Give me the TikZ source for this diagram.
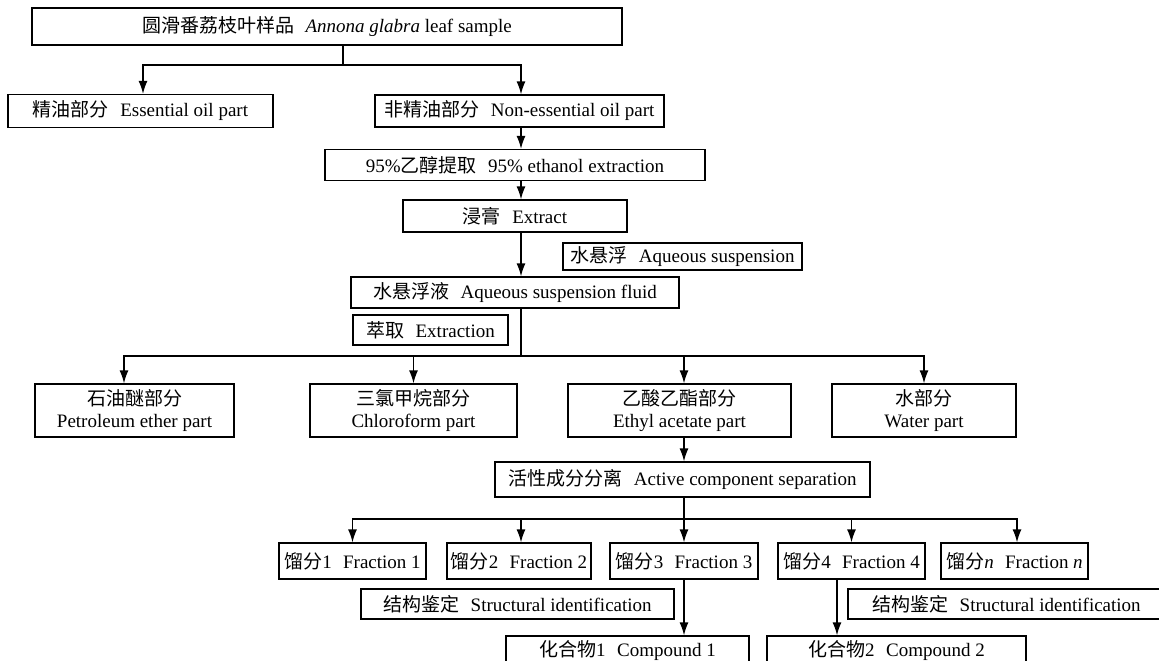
\documentclass[tikz,border=0pt]{standalone}
\usepackage{fontspec}
\setmainfont{Liberation Serif}
\newfontfamily\cjk{Noto Sans CJK SC}
\usetikzlibrary{arrows.meta}
\newcommand{\zh}[1]{{\cjk #1}}
\newcommand{\gp}{\hspace{0.6em}}
\begin{document}
\begin{tikzpicture}[x=1pt,y=-1pt,
  box/.style={draw,line width=1.3pt,inner sep=0pt,align=center,font=\fontsize{19}{22}\selectfont},
  arr/.style={line width=1.3pt,-{Latex[length=13pt,width=9pt]}},
  ln/.style={line width=1.3pt}]
\path[use as bounding box,clip] (0,0) rectangle (1159,661);
\fill[white] (0,0) rectangle (1159,661);
% nodes
\node[box,minimum width=590pt,minimum height=37pt] (top) at (327,26.5) {\zh{圆滑番荔枝叶样品}\gp\textit{Annona glabra} leaf sample};
\node[box,minimum width=265pt,minimum height=33pt] (ess) at (140.5,111) {\zh{精油部分}\gp Essential oil part};
\node[box,minimum width=289pt,minimum height=32pt] (non) at (519.5,111) {\zh{非精油部分}\gp Non-essential oil part};
\node[box,minimum width=380pt,minimum height=31pt] (eth) at (515,165) {95\%\zh{乙醇提取}\gp 95\% ethanol extraction};
\node[box,minimum width=224pt,minimum height=32pt] (ext) at (515,216) {\zh{浸膏}\gp Extract};
\node[box,minimum width=239pt,minimum height=27pt] (aqs) at (682.5,256.5) {\zh{水悬浮}\gp Aqueous suspension};
\node[box,minimum width=328pt,minimum height=31pt] (flu) at (515,292.5) {\zh{水悬浮液}\gp Aqueous suspension fluid};
\node[box,minimum width=155pt,minimum height=30pt] (exn) at (430.5,330) {\zh{萃取}\gp Extraction};
\node[box,minimum width=199pt,minimum height=53pt] (pet) at (134.5,410.5) {\zh{石油醚部分}\\Petroleum ether part};
\node[box,minimum width=207pt,minimum height=53pt] (chl) at (413.5,410.5) {\zh{三氯甲烷部分}\\Chloroform part};
\node[box,minimum width=223pt,minimum height=53pt] (eta) at (679.5,410.5) {\zh{乙酸乙酯部分}\\Ethyl acetate part};
\node[box,minimum width=184pt,minimum height=53pt] (wat) at (924,410.5) {\zh{水部分}\\Water part};
\node[box,minimum width=375pt,minimum height=35pt] (act) at (682.5,479.5) {\zh{活性成分分离}\gp Active component separation};
\node[box,minimum width=147pt,minimum height=36pt] (f1) at (352.5,561) {\zh{馏分}1\gp Fraction 1};
\node[box,minimum width=144pt,minimum height=36pt] (f2) at (519,561) {\zh{馏分}2\gp Fraction 2};
\node[box,minimum width=148pt,minimum height=36pt] (f3) at (684,561) {\zh{馏分}3\gp Fraction 3};
\node[box,minimum width=147pt,minimum height=36pt] (f4) at (851.5,561) {\zh{馏分}4\gp Fraction 4};
\node[box,minimum width=147pt,minimum height=36pt] (fn) at (1014.5,561) {\zh{馏分}\textit{n}\gp Fraction \textit{n}};
\node[box,minimum width=313pt,minimum height=30pt] (sid1) at (517.5,604) {\zh{结构鉴定}\gp Structural identification};
\node[box,minimum width=317pt,minimum height=30pt] (sid2) at (1006.5,604) {\zh{结构鉴定}\gp Structural identification};
\node[box,minimum width=243pt,minimum height=30pt] (cmp1) at (627.5,651) {\zh{化合物}1\gp Compound 1};
\node[box,minimum width=259pt,minimum height=30pt] (cmp2) at (896.5,651) {\zh{化合物}2\gp Compound 2};
% helper coordinates
\coordinate (cA) at (521,0);
\coordinate (cP) at (124,0);
\coordinate (cE) at (684,0);
\coordinate (cN) at (1017,0);
\coordinate (cF) at (837,0);
\coordinate (cS) at (143,0);
\coordinate (j1) at (343,65);
\coordinate (j2) at (521,356);
\coordinate (j3) at (684,519);
% connectors
\draw[ln] (top.south -| j1) -- (j1);
\draw[arr] (j1) -| (ess.north -| cS);
\draw[arr] (j1) -| (non.north -| cA);
\draw[arr] (non.south -| cA) -- (eth.north -| cA);
\draw[arr] (eth.south -| cA) -- (ext.north -| cA);
\draw[arr] (ext.south -| cA) -- (flu.north -| cA);
\draw[ln] (flu.south -| cA) -- (j2);
\draw[arr] (j2) -| (pet.north -| cP);
\draw[arr] (j2) -| (chl.north);
\draw[arr] (j2) -| (eta.north -| cE);
\draw[arr] (j2) -| (wat.north);
\draw[arr] (eta.south -| cE) -- (act.north -| cE);
\draw[ln] (act.south -| cE) -- (j3);
\draw[arr] (j3) -| (f1.north);
\draw[arr] (j3) -| (f2.north -| cA);
\draw[arr] (j3) -- (f3.north -| cE);
\draw[arr] (j3) -| (f4.north);
\draw[arr] (j3) -| (fn.north -| cN);
\draw[arr] (f3.south -| cE) -- (cmp1.north -| cE);
\draw[arr] (f4.south -| cF) -- (cmp2.north -| cF);
\end{tikzpicture}
\end{document}
